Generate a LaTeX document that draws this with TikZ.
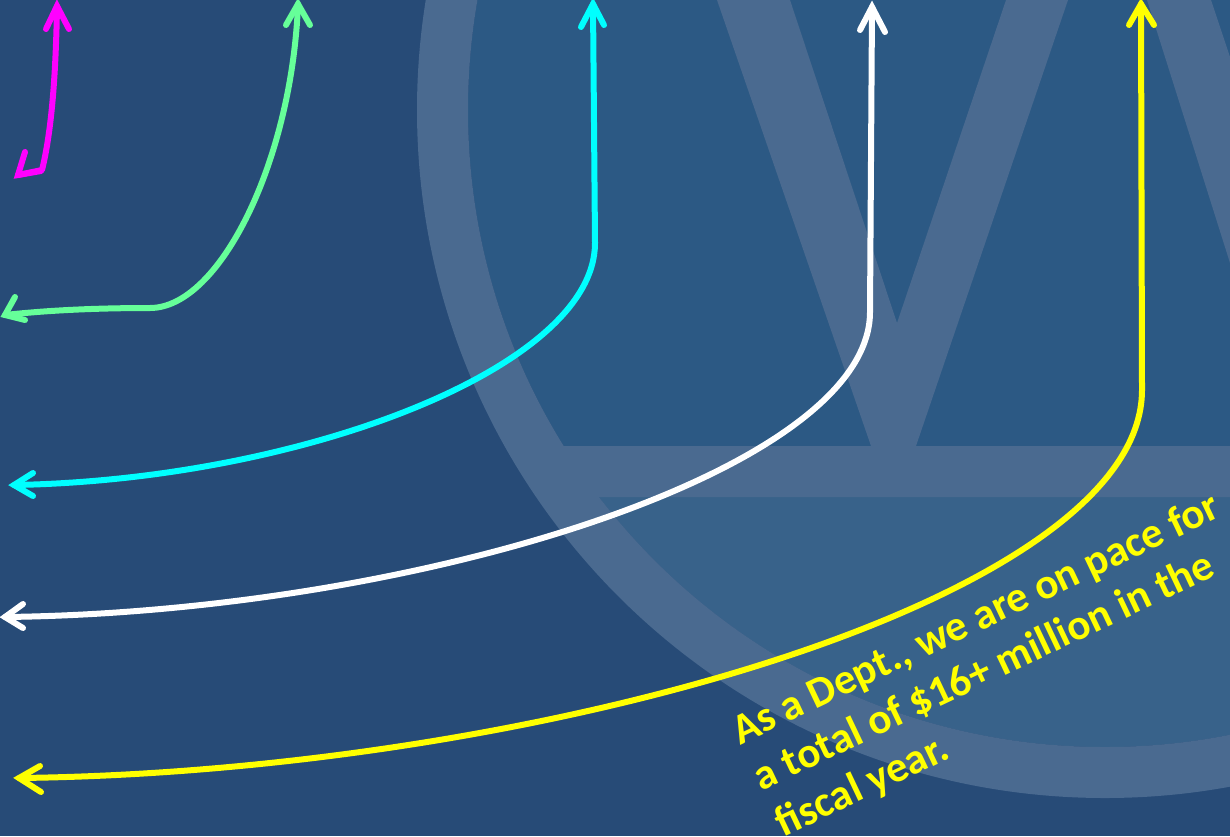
\documentclass[tikz,border=0pt]{standalone}
\usepackage{fontspec}
\setmainfont{Carlito}
\definecolor{bgc}{HTML}{274B77}
\definecolor{upc}{HTML}{2C5984}
\definecolor{loc}{HTML}{38628A}
\definecolor{ringc}{HTML}{4A6A90}
\definecolor{greenc}{HTML}{66FF99}
\definecolor{magc}{RGB}{255,0,255}
\definecolor{cyanc}{RGB}{0,255,255}
\definecolor{yelc}{RGB}{255,255,0}
\definecolor{whc}{RGB}{255,255,255}
\tikzset{
  conn/.style={line width=6pt,line cap=round,line join=round},
  hd/.style={line width=6pt,line cap=round,line join=miter},
  caption/.style={text=yelc,font=\bfseries\fontsize{43}{51}\selectfont,align=left,rotate=25.4,inner sep=0pt}
}
\begin{document}
\begin{tikzpicture}[x=1pt,y=-1pt]
\useasboundingbox (0,0) rectangle (1230,836);
\fill[bgc] (0,0) rectangle (1230,836);
\begin{scope}
\clip (0,0) rectangle (1230,836);
\fill[upc] (1105,110) circle (637);
\begin{scope}
\clip (1105,110) circle (637);
\fill[loc] (0,497) rectangle (1230,836);
\end{scope}
\fill[ringc,even odd rule] (1105,110) circle (688) (1105,110) circle (637);
\fill[ringc] (540,446) -- (1230,446) -- (1230,497) -- (575,497) -- cycle;
\fill[ringc] (717,0) -- (871,446) -- (916,446) -- (1068,0) -- (1006,0) -- (897,323) -- (790,0) -- cycle;
\fill[ringc] (1147,0) -- (1230,263) -- (1230,57) -- (1211,0) -- cycle;
\end{scope}
% magenta
\coordinate (mTip) at (57,6);
\coordinate (mBend) at (42,170);
\coordinate (mEnd) at (18,175);
\draw[conn,magc] (mTip) .. controls (56,70) and (52,130) .. (mBend) -- (mEnd);
\draw[hd,magc] (46,29) -- (mTip) -- (69,29);
\draw[hd,magc] (25,152) -- (mEnd) -- (41,171);
% green
\coordinate (gTip) at (298,4);
\coordinate (gBend) at (150,308);
\coordinate (gEnd) at (5,315);
\draw[conn,greenc] (gTip) .. controls (292,160) and (220,308) .. (gBend) .. controls (100,308) and (50,310) .. (gEnd);
\draw[hd,greenc] (286,25) -- (gTip) -- (310,25);
\draw[hd,greenc] (15,297) -- (gEnd) -- (25,320);
% cyan
\coordinate (cTip) at (593,4);
\coordinate (cBend) at (595,243);
\coordinate (cEnd) at (14,485);
\draw[conn,cyanc] (cTip) -- (cBend) .. controls (595,368) and (300,480) .. (cEnd);
\draw[hd,cyanc] (581,27) -- (cTip) -- (604,25);
\draw[hd,cyanc] (33,473) -- (cEnd) -- (33,496);
% white
\coordinate (wTip) at (872,7);
\coordinate (wBend) at (870,312);
\coordinate (wEnd) at (5,617);
\draw[conn,whc] (wTip) -- (wBend) .. controls (870,470) and (420,612) .. (wEnd);
\draw[hd,whc] (860,30) -- (wTip) -- (885,32);
\draw[hd,whc] (23,604) -- (wEnd) -- (23,628);
% yellow
\coordinate (yTip) at (1141,4);
\coordinate (yBend) at (1142,390);
\coordinate (yEnd) at (19,778);
\draw[conn,yelc] (yTip) -- (yBend) .. controls (1142,600) and (535,772) .. (yEnd);
\draw[hd,yelc] (1129,25) -- (yTip) -- (1154,25);
\draw[hd,yelc] (40,766) -- (yEnd) -- (41,792);
\node[caption,anchor=north west] (cap) at (727,718) {As a Dept., we are on pace for\\a total of \$16+ million in the\\fiscal year.};
\end{tikzpicture}
\end{document}
